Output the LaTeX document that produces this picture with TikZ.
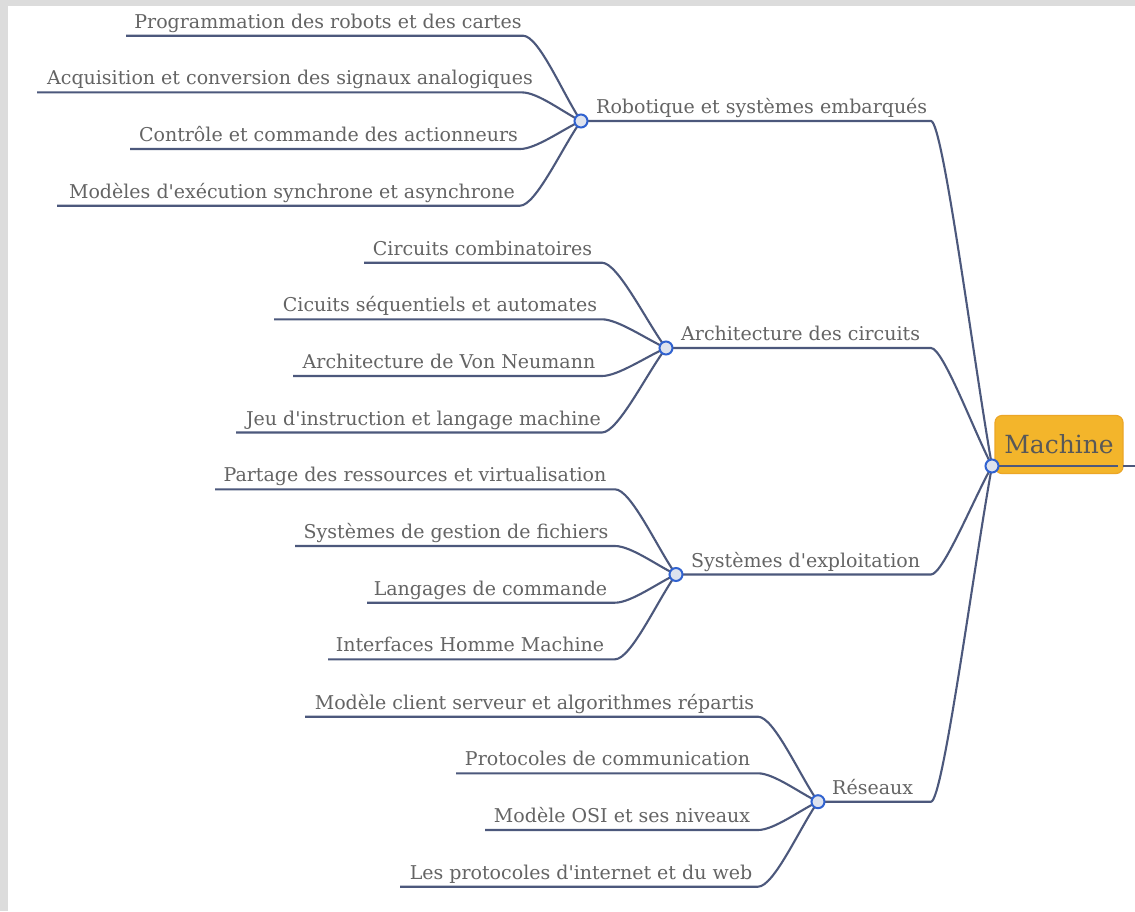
\documentclass[tikz,border=0pt]{standalone}
\usepackage{fontspec}
\setmainfont{DejaVu Serif}
\usetikzlibrary{calc}
\definecolor{linec}{RGB}{76,88,124}
\definecolor{txtc}{RGB}{100,100,100}
\definecolor{circfill}{RGB}{222,227,238}
\definecolor{circdraw}{RGB}{48,98,208}
\definecolor{mfill}{RGB}{243,181,43}
\definecolor{mdraw}{RGB}{236,166,38}
\definecolor{mtext}{RGB}{88,88,88}
\definecolor{bgband}{RGB}{220,220,220}
\begin{document}
\begin{tikzpicture}[x=1pt,y=-1pt,
  leaftext/.style={anchor=base,text=txtc,font=\fontsize{19}{22}\selectfont,inner sep=0pt},
  topictext/.style={anchor=base west,text=txtc,font=\fontsize{19}{22}\selectfont,inner sep=0pt},
  conn/.style={draw=linec,line width=2.1pt},
  knob/.style={circle,draw=circdraw,fill=circfill,line width=2pt,minimum size=13pt,inner sep=0pt},
  rootbox/.style={draw=mdraw,fill=mfill,rounded corners=7pt,line width=1.2pt,minimum width=128pt,minimum height=58pt,inner sep=0pt,text=mtext,font=\fontsize{25}{28}\selectfont}]
\useasboundingbox (0,0) rectangle (1135,911);
\fill[bgband] (0,0) rectangle (1135,911);
\fill[white] (8,5.7) rectangle (1135,911);

% hub and topic points
\coordinate (hub) at (992,466);
\coordinate (r1) at (581,121);
\coordinate (r2) at (666,348);
\coordinate (r3) at (676,574.5);
\coordinate (r4) at (818,801.7);

% root node
\node[rootbox] (machine) at (1059,444.5) {Machine};
\coordinate (mline) at (1118,466);
\coordinate (outA) at (1123,466);
\coordinate (outB) at (1136,466);
\draw[conn] (hub) -- (mline);
\draw[conn] (outA) -- (outB);

% topics
\foreach \nm/\txt/\lx/\yy/\pp in {
  t1/Robotique et systèmes embarqués/596/121/r1,
  t2/Architecture des circuits/681/348/r2,
  t3/Systèmes d\textquotesingle exploitation/691/574.5/r3,
  t4/Réseaux/832/801.7/r4}
{
  \node[topictext] (\nm) at (\lx,\yy-7.5) {\txt};
  \coordinate (\nm r) at (931,\yy);
  \draw[conn] (\pp) -- (\nm r) .. controls +(12,0) and ($(hub)!0.3!(\nm r)$) .. (hub);
}

% leaves
\foreach \nm/\txt/\cx/\yy/\lx/\rx/\pp in {
  a1/Programmation des robots et des cartes/328/35.7/126/523/r1,
  a2/Acquisition et conversion des signaux analogiques/290/92.4/37/522/r1,
  a3/Contrôle et commande des actionneurs/328.5/149/130/520/r1,
  a4/Modèles d\textquotesingle exécution synchrone et asynchrone/292/205.7/57/520/r1,
  b1/Circuits combinatoires/482.5/262.7/364/602/r2,
  b2/Cicuits séquentiels et automates/440/319.3/274/602/r2,
  b3/Architecture de Von Neumann/449/376/293/602/r2,
  b4/Jeu d\textquotesingle instruction et langage machine/423.5/432.5/236/602/r2,
  c1/Partage des ressources et virtualisation/415/489.3/215/615/r3,
  c2/Systèmes de gestion de fichiers/456/546/295/615/r3,
  c3/Langages de commande/490.5/602.7/367/615/r3,
  c4/Interfaces Homme Machine/470/659.3/328/615/r3,
  d1/Modèle client serveur et algorithmes répartis/534.5/716.7/305/758/r4,
  d2/Protocoles de communication/607.5/773.3/456/758/r4,
  d3/Modèle OSI et ses niveaux/622/830/485/758/r4,
  d4/Les protocoles d\textquotesingle internet et du web/581/886.7/400/758/r4}
{
  \node[leaftext] (\nm) at (\cx,\yy-7.5) {\txt};
  \coordinate (\nm l) at (\lx,\yy);
  \coordinate (\nm r) at (\rx,\yy);
  \draw[conn] (\nm l) -- (\nm r) .. controls +(16,0) and ($(\pp)!0.3!(\nm r)$) .. (\pp);
}

% connection knobs
\node[knob] (k1) at (r1) {};
\node[knob] (k2) at (r2) {};
\node[knob] (k3) at (r3) {};
\node[knob] (k4) at (r4) {};
\node[knob] (khub) at (hub) {};
\end{tikzpicture}
\end{document}
